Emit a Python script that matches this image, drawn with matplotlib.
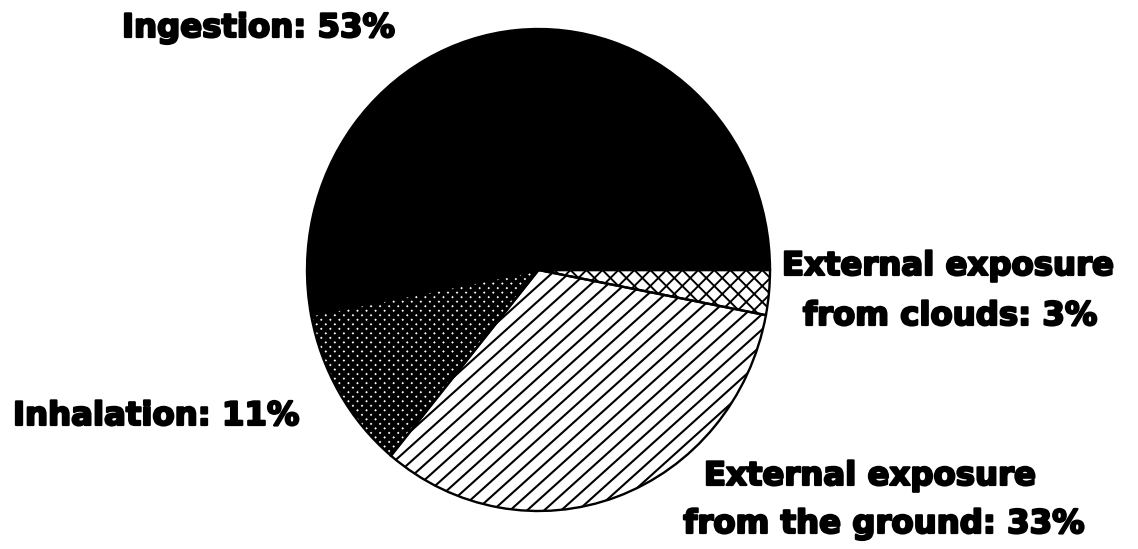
import numpy as np
import matplotlib.pyplot as plt
import matplotlib.patheffects as pe
from matplotlib.collections import LineCollection

labels = ["Ingestion", "Inhalation", "External exposure\nfrom the ground", "External exposure\nfrom clouds"]
shares = [53, 11, 33, 3]
faces = ["black", "white", "white", "white"]
# hatch styles: (angles in degrees, spacing px, line width pt)
hatch_styles = [None,
                ([45, -45], 6.4, 3.3),
                ([42], 11.4, 1.5),
                ([45, -45], 11.3, 1.4)]

W, H = 1138, 549
fig = plt.figure(figsize=(W / 100, H / 100), dpi=100)

# pie occupies px 307..770 horizontally, 29..511 vertically (slightly oval)
ax = fig.add_axes([307 / W, (H - 511) / H, 463 / W, 482 / H])
wedges, _ = ax.pie(shares, startangle=0, counterclock=True, colors=faces,
                   wedgeprops=dict(linewidth=0, clip_on=False))
ax.set_aspect("auto")
ax.set_xlim(-1, 1)
ax.set_ylim(-1, 1)
ax.axis("off")

# hand-made hatching so the spacing matches the scan
sx, sy = 463 / 2, 482 / 2  # px per data unit
for w, style in zip(wedges, hatch_styles):
    if style is None:
        continue
    angles, gap, lw = style
    segs = []
    for a in angles:
        t = np.radians(a)
        d = np.array([np.cos(t), np.sin(t)])
        n = np.array([-np.sin(t), np.cos(t)])
        for k in range(-60, 61):
            p0 = n * k * gap - d * 400
            p1 = n * k * gap + d * 400
            segs.append([(p0[0] / sx, p0[1] / sy), (p1[0] / sx, p1[1] / sy)])
    lc = LineCollection(segs, colors="black", linewidths=lw, zorder=1.5)
    ax.add_collection(lc)
    lc.set_clip_path(w)

# outlines on top
outl, _ = ax.pie(shares, startangle=0, counterclock=True,
                 wedgeprops=dict(fill=False, edgecolor="black", linewidth=1.7,
                                 clip_on=False, zorder=3))
ax.set_aspect("auto")
ax.set_xlim(-1, 1)
ax.set_ylim(-1, 1)

font = dict(family="DejaVu Sans", weight="bold", size=23.3, color="black",
            path_effects=[pe.withStroke(linewidth=1.6, foreground="black")])

def px_text(x, y, s, ha):
    fig.text(x / W, 1 - y / H, s, ha=ha, va="baseline", **font)

px_text(122, 37, f"Ingestion: {shares[0]}%", "left")
px_text(13, 425, f"Inhalation: {shares[1]}%", "left")
g1, g2 = labels[2].split("\n")
px_text(870, 485, g1, "center")
px_text(884, 533, f"{g2}: {shares[2]}%", "center")
c1, c2 = labels[3].split("\n")
px_text(948, 275, c1, "center")
px_text(950, 325, f"{c2}: {shares[3]}%", "center")

fig.savefig("out.png", dpi=100)
